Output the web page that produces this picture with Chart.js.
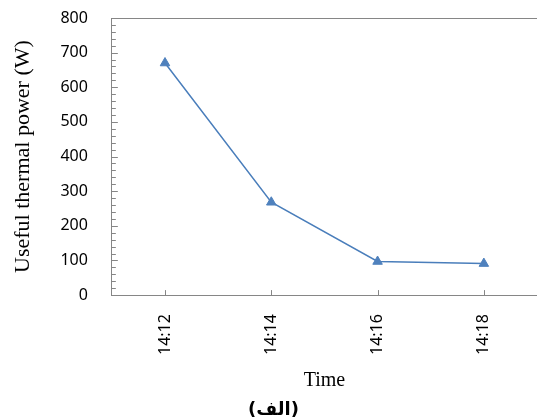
<!DOCTYPE html>
<html>
<head>
<meta charset="utf-8">
<script src="https://cdn.jsdelivr.net/npm/chart.js@4/dist/chart.umd.min.js"></script>
<style>
    html, body { margin: 0; padding: 0; background: #fff; overflow: hidden; }
    #wrap { width: 537px; height: 419px; position: relative; }
</style>
</head>
<body>
<div id="wrap"><canvas id="chart"></canvas></div>
<script>
// 数据
const timeLabels = ['14:12', '14:14', '14:16', '14:18'];
const powerValues = [670, 268, 97, 91];
const yTicks = [0, 100, 200, 300, 400, 500, 600, 700, 800];

const axisColor = '#868686';
const lineColor = '#4a7ebb';

// 内侧刻度线 + 顶部边框
const innerTicks = {
    id: 'innerTicks',
    afterDraw(chart) {
        const { ctx, chartArea, scales: { x, y } } = chart;
        ctx.save();
        ctx.strokeStyle = axisColor;
        ctx.lineWidth = 1;
        ctx.beginPath();
        ctx.moveTo(chartArea.left, chartArea.top + 0.5);
        ctx.lineTo(chartArea.right, chartArea.top + 0.5);
        for (let v = yTicks[0]; v <= yTicks[yTicks.length - 1]; v += 20) {
            const py = Math.round(y.getPixelForValue(v)) + 0.5;
            const len = v % 100 === 0 ? 6 : 4;
            ctx.moveTo(chartArea.left, py);
            ctx.lineTo(chartArea.left + len, py);
        }
        timeLabels.forEach((l, i) => {
            const px = Math.round(x.getPixelForValue(i)) + 0.5;
            ctx.moveTo(px, chartArea.bottom);
            ctx.lineTo(px, chartArea.bottom - 5);
        });
        ctx.stroke();
        ctx.restore();
    }
};

new Chart(document.getElementById('chart'), {
    type: 'line',
    data: {
        labels: timeLabels,
        datasets: [{
            data: powerValues,
            borderColor: lineColor,
            backgroundColor: '#4f81bd',
            borderWidth: 1.5,
            pointStyle: 'triangle',
            pointRadius: 5.5,
            pointBorderWidth: 1,
            pointBorderColor: '#4f81bd',
            tension: 0
        }]
    },
    options: {
        responsive: true,
        maintainAspectRatio: false,
        animation: false,
        layout: { autoPadding: false, padding: { top: 18, right: 0, left: 10, bottom: 0 } },
        plugins: {
            legend: { display: false },
            tooltip: { enabled: false },
            title: {
                display: true,
                position: 'bottom',
                text: '(الف)',
                color: '#000',
                font: { family: 'DejaVu Sans', size: 18, weight: 'bold', lineHeight: 1 },
                padding: { top: 0, bottom: 0 }
            }
        },
        scales: {
            x: {
                offset: true,
                grid: { display: false },
                border: { display: true, color: axisColor, width: 1 },
                afterFit: (axis) => { axis.paddingLeft = 0; axis.paddingRight = 0; },
                ticks: {
                    minRotation: 90,
                    maxRotation: 90,
                    padding: 11,
                    color: '#000',
                    font: { family: 'Noto Sans', size: 16 }
                },
                title: {
                    display: true,
                    text: 'Time',
                    color: '#000',
                    font: { family: 'Liberation Serif', size: 20 },
                    padding: { top: 3, bottom: 8 }
                }
            },
            y: {
                min: yTicks[0],
                max: yTicks[yTicks.length - 1],
                grid: { display: false },
                border: { display: true, color: axisColor, width: 1 },
                afterBuildTicks: (axis) => { axis.ticks = yTicks.map(v => ({ value: v })); },
                afterFit: (axis) => { axis.paddingTop = 0; axis.paddingBottom = 0; },
                ticks: {
                    padding: 16,
                    color: '#000',
                    font: { family: 'Noto Sans', size: 16 }
                },
                title: {
                    display: true,
                    text: 'Useful thermal power (W)',
                    color: '#000',
                    font: { family: 'Liberation Serif', size: 22 },
                    padding: { top: 0, bottom: 8 }
                }
            }
        }
    },
    plugins: [innerTicks]
});
</script>
</body>
</html>
